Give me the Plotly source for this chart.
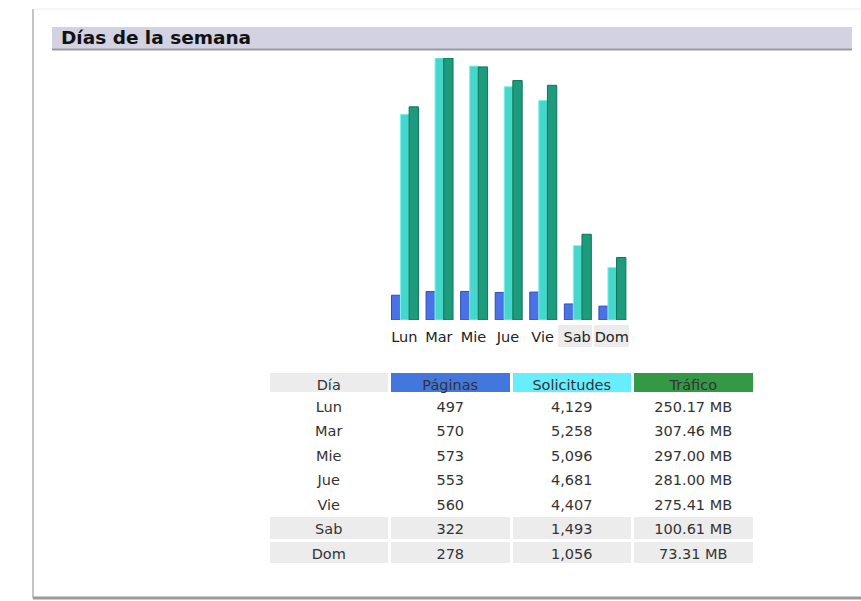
import plotly.graph_objects as go

W, H = 861, 601

dias = ['Lun', 'Mar', 'Mie', 'Jue', 'Vie', 'Sab', 'Dom']
paginas = [497, 570, 573, 553, 560, 322, 278]
solicitudes = [4129, 5258, 5096, 4681, 4407, 1493, 1056]
trafico_mb = [250.17, 307.46, 297.00, 281.00, 275.41, 100.61, 73.31]

header_labels = ['Día', 'Páginas', 'Solicitudes', 'Tráfico']
header_colors = ['#ececec', '#4477dd', '#66eeff', '#339944']
weekend = ['Sab', 'Dom']
weekend_boxes = {'Sab': (4.45, 5.43), 'Dom': (5.49, 6.59)}


def px_x(p):
    return p / W


def px_y(p):
    return 1 - p / H


font_main = 'DejaVu Sans'

fig = go.Figure()

# pages and hits share one scale, traffic has its own (like awstats)
fig.add_trace(go.Bar(x=dias, y=paginas, name='Páginas', yaxis='y',
                     width=0.27, offset=-0.37,
                     marker=dict(color='#4a72e6', line=dict(color='#2b4fb8', width=1))))
fig.add_trace(go.Bar(x=dias, y=solicitudes, name='Solicitudes', yaxis='y',
                     width=0.27, offset=-0.11,
                     marker=dict(color='#45d6cc', line=dict(color='#7ff2f0', width=1))))
fig.add_trace(go.Bar(x=dias, y=trafico_mb, name='Tráfico', yaxis='y2',
                     width=0.27, offset=0.14,
                     marker=dict(color='#1e9a7c', line=dict(color='#0f7558', width=1))))

# data table
col_fill = []
for c in range(4):
    col_fill.append(['#ececec' if d in weekend else 'white' for d in dias])

fig.add_trace(go.Table(
    domain=dict(x=[px_x(268), px_x(754)], y=[px_y(570), px_y(371)]),
    columnwidth=[1, 1, 1, 1],
    header=dict(values=header_labels,
                fill_color=header_colors,
                line=dict(color='white', width=3),
                align='center', height=22,
                font=dict(family=font_main, size=14.5, color='#333333')),
    cells=dict(values=[dias,
                       [f'{v:,}' for v in paginas],
                       [f'{v:,}' for v in solicitudes],
                       [f'{v:.2f} MB' for v in trafico_mb]],
               fill_color=col_fill,
               line=dict(color='white', width=3),
               align='center', height=24.5,
               font=dict(family=font_main, size=14.5, color='#333333')),
))

shapes = [
    # outer frame
    dict(type='line', xref='paper', yref='paper', x0=px_x(33), x1=px_x(33),
         y0=px_y(9), y1=px_y(598), line=dict(color='#c4c4c4', width=2)),
    dict(type='line', xref='paper', yref='paper', x0=px_x(33), x1=1,
         y0=px_y(9), y1=px_y(9), line=dict(color='#ececec', width=1)),
    dict(type='line', xref='paper', yref='paper', x0=px_x(33), x1=1,
         y0=px_y(598), y1=px_y(598), line=dict(color='#9a9a9a', width=3)),
    # title bar
    dict(type='rect', xref='paper', yref='paper', x0=px_x(52), x1=px_x(852),
         y0=px_y(49), y1=px_y(27), fillcolor='#d2d2e2', line=dict(width=0),
         layer='below'),
    dict(type='line', xref='paper', yref='paper', x0=px_x(52), x1=px_x(852),
         y0=px_y(49.5), y1=px_y(49.5), line=dict(color='#9a9aa6', width=2)),
]
# weekend label backgrounds
for d in weekend:
    x0, x1 = weekend_boxes[d]
    shapes.append(dict(type='rect', xref='x', yref='paper', x0=x0, x1=x1,
                       y0=px_y(347), y1=px_y(325), fillcolor='#ececec',
                       line=dict(width=0), layer='below'))

fig.update_layout(
    width=W, height=H,
    margin=dict(l=0, r=0, t=0, b=0),
    paper_bgcolor='white', plot_bgcolor='rgba(0,0,0,0)',
    showlegend=False, barmode='overlay',
    shapes=shapes,
    xaxis=dict(domain=[px_x(387), px_x(629)], range=[-0.5, 6.5],
               showgrid=False, zeroline=False, showline=False, ticks='',
               ticklabelstandoff=6,
               tickfont=dict(family=font_main, size=14.5, color='#222222')),
    yaxis=dict(domain=[px_y(320), px_y(58)], range=[0, max(solicitudes)],
               visible=False),
    yaxis2=dict(domain=[px_y(320), px_y(58)], range=[0, max(trafico_mb)],
                overlaying='y', visible=False),
    annotations=[dict(text='<b>Días de la semana</b>', xref='paper', yref='paper',
                      x=px_x(59), y=px_y(37.5), xanchor='left', yanchor='middle',
                      showarrow=False,
                      font=dict(family=font_main, size=18.5, color='#111111'))],
)

fig.write_html('out.html', config={'displayModeBar': False},
               post_script="document.body.style.margin='0';")
